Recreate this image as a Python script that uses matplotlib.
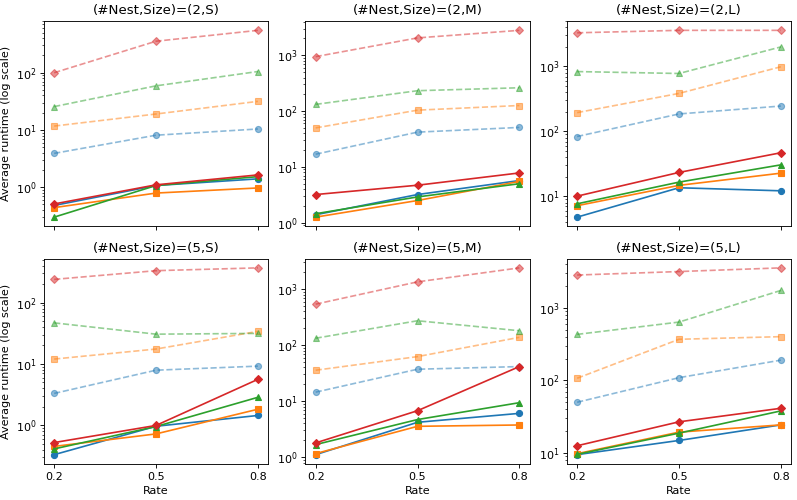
import matplotlib
matplotlib.use("Agg")
import matplotlib.pyplot as plt

rates = [0.2, 0.5, 0.8]
rate_labels = ["0.2", "0.5", "0.8"]
panel_titles = ["(#Nest,Size)=(2,S)", "(#Nest,Size)=(2,M)", "(#Nest,Size)=(2,L)",
                "(#Nest,Size)=(5,S)", "(#Nest,Size)=(5,M)", "(#Nest,Size)=(5,L)"]

# solid series (per panel: rate 0.2, 0.5, 0.8)
solid_blue = [[0.48, 1.07, 1.4], [1.39, 3.2, 5.7], [4.8, 13.6, 12.2],
              [0.33, 0.96, 1.44], [1.11, 4.2, 6.06], [9.5, 14.9, 24.4]]
solid_orange = [[0.44, 0.79, 0.97], [1.26, 2.5, 5.5], [7.2, 14.8, 22.8],
                [0.45, 0.72, 1.82], [1.16, 3.56, 3.76], [9.8, 19.4, 24.4]]
solid_green = [[0.30, 1.07, 1.53], [1.45, 2.9, 5.0], [7.7, 16.6, 30.6],
               [0.41, 0.95, 2.85], [1.68, 4.7, 9.4], [9.6, 18.8, 38.0]]
solid_red = [[0.51, 1.1, 1.64], [3.2, 4.7, 7.8], [10.1, 23.4, 47.0],
             [0.52, 0.99, 5.6], [1.8, 6.76, 41.5], [12.6, 26.9, 41.3]]

# dashed series
dash_blue = [[3.9, 8.1, 10.4], [16.9, 42, 51], [83.6, 186, 246],
             [3.3, 7.9, 9.2], [14.5, 37.2, 41.5], [50, 109, 190]]
dash_orange = [[11.7, 19, 31.6], [50, 104, 126], [195, 385, 990],
               [12, 17.5, 34], [35.7, 62.5, 138], [107, 368, 400]]
dash_green = [[25.6, 59, 105], [132, 232, 262], [835, 780, 2000],
              [46.8, 30.6, 31.5], [133, 273, 181], [430, 635, 1730]]
dash_red = [[100, 355, 550], [946, 2050, 2800], [3300, 3600, 3600],
            [240, 333, 370], [540, 1350, 2400], [2820, 3150, 3540]]

colors = ["#1f77b4", "#ff7f0e", "#2ca02c", "#d62728"]
markers = ["o", "s", "^", "D"]

fig, axes = plt.subplots(2, 3, figsize=(797 / 80, 500 / 80), dpi=80, sharex=True)
fig.subplots_adjust(left=0.0552, right=0.9925, top=0.958, bottom=0.072,
                    wspace=0.167, hspace=0.156)
axes = axes.ravel()
dashed = [dash_blue, dash_orange, dash_green, dash_red]
solid = [solid_blue, solid_orange, solid_green, solid_red]
for i, ax in enumerate(axes):
    for k in range(4):
        ax.plot(rates, dashed[k][i], linestyle="--", marker=markers[k], color=colors[k],
                alpha=0.5, markersize=5.5, linewidth=1.5)
    for k in range(4):
        ax.plot(rates, solid[k][i], linestyle="-", marker=markers[k], color=colors[k],
                markersize=5.5, linewidth=1.5)
    ax.set_yscale("log")
    ax.set_title(panel_titles[i], fontsize=12)
    ax.set_xticks(rates)
    ax.set_xticklabels(rate_labels)
    if i % 3 == 0:
        ax.set_ylabel("Average runtime (log scale)")
    if i >= 3:
        ax.set_xlabel("Rate")

fig.savefig("out.png", dpi=80)
